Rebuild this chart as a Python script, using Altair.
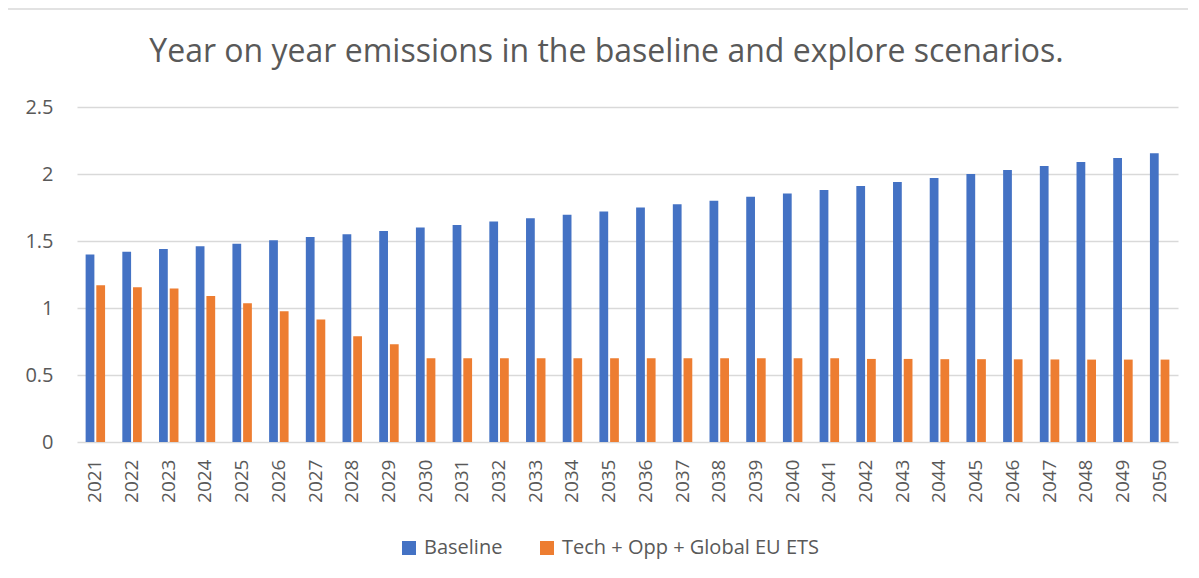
import altair as alt
import pandas as pd

years = [str(y) for y in range(2021, 2051)]
baseline = [1.40, 1.42, 1.44, 1.46, 1.48, 1.505, 1.53, 1.55, 1.575, 1.60,
            1.62, 1.645, 1.67, 1.695, 1.72, 1.75, 1.775, 1.80, 1.83, 1.855,
            1.88, 1.91, 1.94, 1.97, 2.00, 2.03, 2.06, 2.09, 2.12, 2.155]
tech = [1.17, 1.155, 1.145, 1.09, 1.035, 0.975, 0.915, 0.79, 0.73, 0.625,
        0.625, 0.625, 0.625, 0.625, 0.625, 0.625, 0.625, 0.625, 0.625, 0.625,
        0.625, 0.62, 0.62, 0.618, 0.618, 0.617, 0.616, 0.615, 0.615, 0.615]
series_names = ["Baseline", "Tech + Opp + Global EU ETS"]
series_colors = ["#4472C4", "#ED7D31"]
y_ticks = [0, 0.5, 1, 1.5, 2, 2.5]
title_text = "Year on year emissions in the baseline and explore scenarios."

rows = []
for i, yr in enumerate(years):
    rows.append({"year": yr, "series": series_names[0], "value": baseline[i]})
    rows.append({"year": yr, "series": series_names[1], "value": tech[i]})
df = pd.DataFrame(rows)

W, H = 1101, 335
FONT = "Open Sans"
GREY = "#595959"

bars = alt.Chart(df).mark_bar().encode(
    x=alt.X("year:N", sort=years,
            scale=alt.Scale(paddingInner=0.47, paddingOuter=0.235),
            axis=alt.Axis(title=None, labelAngle=270, labelFontSize=19,
                          labelColor=GREY, labelFont=FONT, ticks=False,
                          domain=False, labelPadding=17, labelBaseline="middle",
                          labelAlign="right", grid=False)),
    xOffset=alt.XOffset("series:N", sort=series_names,
                        scale=alt.Scale(paddingInner=0.18)),
    y=alt.Y("value:Q", scale=alt.Scale(domain=[0, 2.5]),
            axis=alt.Axis(title=None, values=y_ticks, labelFontSize=20,
                          labelColor=GREY, labelFont=FONT, ticks=False,
                          domain=False, labelPadding=24, gridColor="#d9d9d9",
                          gridWidth=1.5, labelExpr="format(datum.value, '~g')")),
    color=alt.Color("series:N", sort=series_names,
                    scale=alt.Scale(domain=series_names, range=series_colors),
                    legend=alt.Legend(title=None, orient="none", legendX=322,
                                      legendY=431, direction="horizontal",
                                      symbolType="square", symbolSize=196,
                                      symbolStrokeWidth=0, labelFontSize=20,
                                      labelFont=FONT, labelColor=GREY,
                                      labelOffset=5, columnPadding=34,
                                      labelLimit=400)),
)

one = pd.DataFrame({"t": [title_text]})
frame_left = alt.Chart(one).mark_rule(color="#d9d9d9", strokeWidth=1.5).encode(
    x=alt.value(-70), y=alt.value(-98), y2=alt.value(H + 300))
frame_top = alt.Chart(one).mark_rule(color="#d9d9d9", strokeWidth=1.5).encode(
    x=alt.value(-70), x2=alt.value(W + 200), y=alt.value(-98))
title = alt.Chart(one).mark_text(
    font=FONT, fontSize=32, color=GREY, align="center", baseline="alphabetic"
).encode(text="t:N", x=alt.value(W / 2 - 21), y=alt.value(-45))

chart = alt.layer(frame_left, frame_top, title, bars).properties(
    width=W, height=H,
    background="white",
    autosize=alt.AutoSizeParams(type="none"),
    padding={"left": 69, "top": 99, "right": 10, "bottom": 120},
).configure_view(strokeWidth=0)

chart.save("out.html", embed_options={"renderer": "svg", "actions": False})
